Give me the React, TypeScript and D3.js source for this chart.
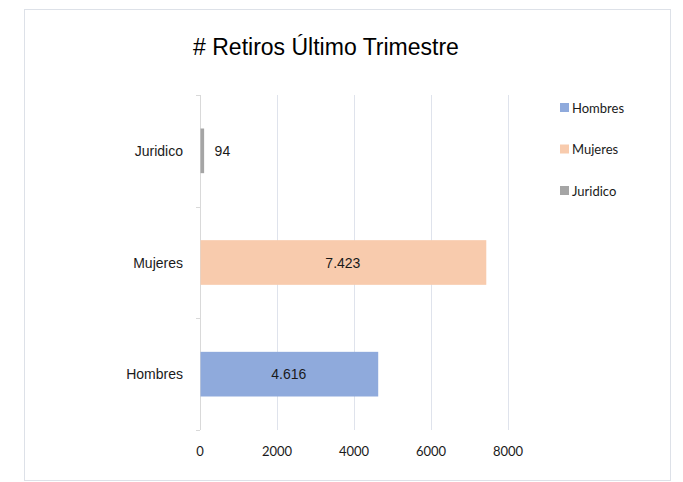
import * as d3 from 'd3';
import { useEffect, useRef } from 'react';

const categories = ['Juridico', 'Mujeres', 'Hombres'];
const values = [94, 7423, 4616];
const valueLabels = ['94', '7.423', '4.616'];
const colors = ['#a5a5a5', '#f8cbad', '#8faadc'];
const legendItems = ['Hombres', 'Mujeres', 'Juridico'];
const legendColors = ['#8faadc', '#f8cbad', '#a5a5a5'];
const xTicks = [0, 2000, 4000, 6000, 8000];

const App = () => {
  const ref = useRef<SVGSVGElement>(null);

  useEffect(() => {
    const svg = d3.select(ref.current);
    svg.selectAll('*').remove();

    // outer frame
    svg.append('rect')
      .attr('x', 24.5).attr('y', 9.5)
      .attr('width', 646).attr('height', 471)
      .attr('fill', '#fff')
      .attr('stroke', '#dde1e8');

    svg.append('text')
      .attr('x', 326).attr('y', 55)
      .attr('text-anchor', 'middle')
      .attr('font-family', 'Liberation Sans, Arial, sans-serif')
      .attr('font-size', 23)
      .attr('fill', '#000')
      .text('# Retiros Último Trimestre');

    const x = d3.scaleLinear().domain([0, 8000]).range([200, 508]);
    const y = d3.scaleBand()
      .domain(categories)
      .range([95, 430])
      .paddingInner(0.6)
      .paddingOuter(0.3);

    // gridlines
    svg.append('g')
      .selectAll('line')
      .data(xTicks.slice(1))
      .enter()
      .append('line')
      .attr('x1', d => x(d) + 0.5).attr('x2', d => x(d) + 0.5)
      .attr('y1', 95).attr('y2', 430)
      .attr('stroke', '#dfe3ec')
      .attr('stroke-width', 1);

    // y axis line + ticks at band boundaries
    const step = y.step();
    const bounds = d3.range(categories.length + 1).map(i => 95 + i * step);
    svg.append('line')
      .attr('x1', 200.5).attr('x2', 200.5)
      .attr('y1', 95).attr('y2', 430)
      .attr('stroke', '#d9d9d9');
    svg.append('g')
      .selectAll('line')
      .data(bounds)
      .enter()
      .append('line')
      .attr('x1', 196).attr('x2', 200)
      .attr('y1', d => Math.round(d) + 0.5).attr('y2', d => Math.round(d) + 0.5)
      .attr('stroke', '#d9d9d9');

    // bars
    svg.append('g')
      .selectAll('rect')
      .data(categories)
      .enter()
      .append('rect')
      .attr('x', x(0) + 0.5)
      .attr('y', d => y(d)!)
      .attr('width', (d, i) => x(values[i]) - x(0))
      .attr('height', y.bandwidth())
      .attr('fill', (d, i) => colors[i]);

    // data labels
    svg.append('g')
      .selectAll('text')
      .data(categories)
      .enter()
      .append('text')
      .attr('x', (d, i) => values[i] < 1000 ? x(values[i]) + 11 : (x(0) + x(values[i])) / 2)
      .attr('y', d => y(d)! + y.bandwidth() / 2 + 5)
      .attr('text-anchor', (d, i) => values[i] < 1000 ? 'start' : 'middle')
      .attr('font-family', 'Liberation Sans, Arial, sans-serif')
      .attr('font-size', 14)
      .attr('fill', '#1a1a1a')
      .text((d, i) => valueLabels[i]);

    // category labels
    svg.append('g')
      .selectAll('text')
      .data(categories)
      .enter()
      .append('text')
      .attr('x', 183)
      .attr('y', d => y(d)! + y.bandwidth() / 2 + 5)
      .attr('text-anchor', 'end')
      .attr('font-family', 'Liberation Sans, Arial, sans-serif')
      .attr('font-size', 14)
      .attr('fill', '#1a1a1a')
      .text(d => d);

    // x tick labels
    svg.append('g')
      .selectAll('text')
      .data(xTicks)
      .enter()
      .append('text')
      .attr('x', d => x(d))
      .attr('y', 456)
      .attr('text-anchor', 'middle')
      .attr('font-family', 'Lato, Open Sans, sans-serif')
      .attr('font-size', 13)
      .attr('fill', '#1a1a1a')
      .text(d => String(d));

    // legend
    const legend = svg.append('g')
      .selectAll('g')
      .data(legendItems)
      .enter()
      .append('g')
      .attr('transform', (d, i) => `translate(560,${108 + i * 41.5})`);
    legend.append('rect')
      .attr('x', 0).attr('y', -5)
      .attr('width', 9).attr('height', 9)
      .attr('fill', (d, i) => legendColors[i]);
    legend.append('text')
      .attr('x', 12).attr('y', 4.5)
      .attr('font-family', 'Lato, Open Sans, sans-serif')
      .attr('font-size', 13)
      .attr('fill', '#1a1a1a')
      .text(d => d);
  }, []);

  return <svg ref={ref} width={683} height={482} style={{ position: 'absolute', left: 0, top: 0 }}></svg>;
};

export default App;
